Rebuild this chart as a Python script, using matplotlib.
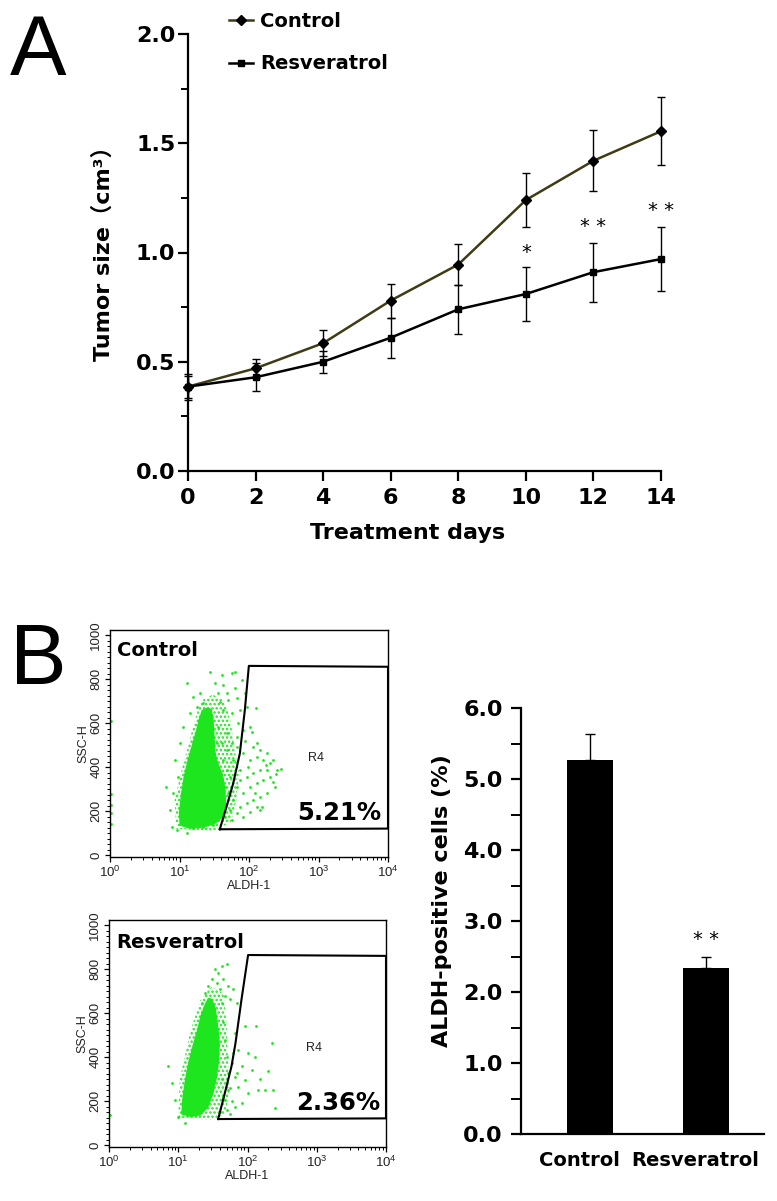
import numpy as np
import matplotlib
matplotlib.use("Agg")
import matplotlib.pyplot as plt
import matplotlib.transforms as mtransforms
from matplotlib.ticker import MultipleLocator, LogLocator, NullFormatter

plt.rcParams['font.family'] = ['DejaVu Sans', 'Noto Sans CJK SC']
plt.rcParams['hatch.linewidth'] = 1.2

W, H = 777, 1201

# === Panel A: tumor growth ===
days = [0, 2, 4, 6, 8, 10, 12, 14]
control_size = [0.386, 0.47, 0.585, 0.78, 0.945, 1.24, 1.42, 1.555]
control_err = [0.06, 0.043, 0.06, 0.078, 0.095, 0.124, 0.14, 0.156]
resv_size = [0.386, 0.429, 0.50, 0.61, 0.74, 0.81, 0.91, 0.97]
resv_err = [0.05, 0.063, 0.05, 0.092, 0.113, 0.122, 0.135, 0.146]
sig_days = [10, 12, 14]
sig_marks = ["*", "* *", "* *"]
sig_height = [1.0, 1.12, 1.19]

# === Panel B: ALDH-positive bars ===
groups = ["Control", "Resveratrol"]
aldh_pct = [5.27, 2.34]
aldh_err = [0.36, 0.155]
pct_labels = ["5.21%", "2.36%"]

# === Panel B: flow cytometry (ALDH-1, SSC-H) ===
# dense core of the population, outline
ctrl_core_x = [10, 9.8, 10.5, 11.5, 13, 15, 17, 19, 21, 25, 29, 31, 32, 33, 36, 42, 46, 47, 42, 32, 22, 14]
ctrl_core_y = [135, 200, 280, 360, 430, 500, 560, 620, 660, 672, 665, 620, 540, 470, 420, 370, 300, 230, 170, 140, 125, 120]
# looser ring of events round the core
ctrl_halo_x = [9, 8.5, 11, 15, 20, 30, 45, 55, 62, 72, 66, 55, 30]
ctrl_halo_y = [120, 250, 400, 560, 700, 730, 700, 600, 480, 380, 250, 150, 110]
ctrl_dots_x = [12.7, 19.7, 32.4, 40.5, 42.8, 47.8, 56.4, 63, 50.5, 66.5, 78.5, 87.7, 38.3, 22, 15.8,
               27.5, 36.2, 42.8, 56.4, 74.3, 92.7,
               66.5, 83, 103.5, 129, 161, 201, 251, 144, 115.6, 92.7, 74.3, 59.6, 53.3, 66.5, 83,
               103.5, 129, 161, 201, 237, 180, 144, 115.6, 92.7, 74.3, 59.6, 50.5, 53.3, 66.5, 83,
               103.5, 129, 74.3, 180, 224, 98, 122, 152, 45.2, 56.4, 40.5, 47.8, 56.4, 66.5, 83,
               103.5, 129, 144, 115.6, 180,
               8.1, 7.3, 8.6, 10.2, 11.4, 9.6, 7.7, 9.1, 12.7, 15.8, 22, 30, 6.5, 14.2, 17.8,
               36.2, 40.5, 42.8, 47.8, 38.3, 45.2, 40.5, 36.2, 47.8, 34.6,
               1.02, 1.02, 1.02, 1.02, 1.02,
               62.6, 128, 248, 178, 222, 143, 290, 110, 88, 70]
ctrl_dots_y = [781, 736, 781, 819, 773, 736, 826, 758, 705, 713, 796, 736, 698, 690, 720,
               834, 736, 660, 645, 660, 675,
               493, 463, 433, 448, 433, 418, 387, 387, 372, 357, 387, 433, 357, 312, 281,
               312, 327, 342, 357, 312, 281, 266, 251, 236, 221, 251, 281, 206, 191, 175,
               198, 221, 342, 387, 433, 402, 281, 221, 175, 160, 251, 387, 509, 539, 569,
               584, 509, 478, 493, 463,
               281, 206, 433, 509, 584, 357, 130, 115, 100, 122, 130, 138, 312, 645, 675,
               584, 509, 433, 554, 357, 312, 206, 281, 478, 509,
               140, 190, 230, 280, 610,
               833, 667, 371, 409, 333, 204, 390, 560, 520, 600]
ctrl_gate_x = [38, 47.5, 59.2, 73.8, 87.1, 99.5, 1e4, 1e4, 38]
ctrl_gate_y = [118, 220, 326, 462, 659, 860, 856, 121, 118]

resv_core_x = [11, 11.5, 12.5, 14, 16, 18.5, 21, 24, 27, 31, 35, 38, 40, 39, 36, 32, 27, 21, 15]
resv_core_y = [140, 220, 300, 380, 450, 520, 590, 640, 670, 665, 620, 540, 460, 380, 300, 230, 170, 135, 128]
resv_halo_x = [10, 10.5, 15, 21, 30, 45, 50, 52, 55, 48, 30]
resv_halo_y = [120, 300, 520, 660, 720, 690, 550, 400, 250, 140, 115]
resv_dots_x = [42.5, 50.2, 38, 34, 30.4, 44.9, 53, 27.2, 40.2, 62.5, 47.5, 35.9, 24.4, 21.8, 56,
               69.9, 42.5,
               66.1, 92.3, 73.9, 103, 129, 59.2, 82.6, 115, 66.1, 92.3, 73.9, 53, 103, 47.5, 82.6,
               66.1, 144, 180, 224, 152, 233, 248, 200, 134,
               8.0, 10, 12.5, 7.2, 9.0, 1.02,
               44.9, 47.5, 50.2, 53, 56, 59.2, 42.5, 45, 50, 40, 55, 62, 70]
resv_dots_y = [814, 822, 784, 799, 753, 753, 723, 723, 708, 708, 677, 738, 693, 647, 662,
               647, 647,
               510, 540, 434, 419, 403, 373, 358, 343, 312, 297, 266, 251, 236, 206, 190,
               175, 251, 251, 464, 300, 251, 167, 335, 540,
               282, 129, 99, 358, 205, 137,
               560, 480, 400, 330, 260, 200, 300, 220, 160, 150, 140, 420, 330]
resv_gate_x = [37.7, 47, 58.7, 67.1, 81.9, 102, 1e4, 1e4, 37.7]
resv_gate_y = [119, 236, 358, 464, 662, 864, 860, 122, 119]

GREEN = "#1ee61e"
OLIVE = "#3f3b15"


def fx(x):
    return x / W


def fy(y):
    return 1 - y / H


def box(left, top, right, bottom):
    return [fx(left), fy(bottom), (right - left) / W, (bottom - top) / H]


fig = plt.figure(figsize=(W / 100, H / 100), dpi=100)

# ---------- Panel A ----------
ax = fig.add_axes(box(188, 34, 661, 471))
ax.errorbar(days, control_size, yerr=control_err, fmt="none", ecolor="black",
            elinewidth=1, capsize=3, capthick=1, clip_on=False)
ax.errorbar(days, resv_size, yerr=resv_err, fmt="none", ecolor="black",
            elinewidth=1, capsize=3, capthick=1, clip_on=False)
ax.plot(days, control_size, color=OLIVE, lw=1.8, marker="D", ms=5.5,
        mfc="black", mec="black", label="Control", clip_on=False)
ax.plot(days, resv_size, color="black", lw=1.8, marker="s", ms=5,
        mfc="black", mec="black", label="Resveratrol", clip_on=False)
for d, m, h in zip(sig_days, sig_marks, sig_height):
    ax.text(d, h, m, ha="center", va="center", fontsize=14)

ax.set_xlim(0, 14)
ax.set_ylim(0, 2)
ax.set_xticks(days)
ax.yaxis.set_major_locator(MultipleLocator(0.5))
ax.yaxis.set_minor_locator(MultipleLocator(0.25))
ax.yaxis.set_major_formatter(plt.FuncFormatter(lambda v, p: f"{v:.1f}"))
for s in ["top", "right"]:
    ax.spines[s].set_visible(False)
for s in ["left", "bottom"]:
    ax.spines[s].set_linewidth(1.6)
ax.tick_params(axis="both", which="major", direction="out", length=7, width=1.6,
               labelsize=16)
ax.tick_params(axis="y", which="major", pad=2)
ax.tick_params(axis="x", which="major", pad=5)
ax.tick_params(axis="y", which="minor", direction="out", length=5, width=1.4)
for lab in ax.get_xticklabels() + ax.get_yticklabels():
    lab.set_fontweight("bold")

leg = ax.legend(loc="upper left", bbox_to_anchor=(fx(229), fy(12)),
                bbox_transform=fig.transFigure, frameon=False, borderpad=0,
                borderaxespad=0, fontsize=14, handlelength=1.25,
                handletextpad=0.35, labelspacing=1.2, markerscale=0.9)
for t in leg.get_texts():
    t.set_fontweight("bold")

fig.text(fx(103), fy(248), "Tumor size（cm³）", rotation=90, ha="center",
         va="center", fontsize=16, fontweight="bold")
fig.text(fx(408), fy(533), "Treatment days", ha="center", va="center",
         fontsize=16, fontweight="bold")
fig.text(fx(10), fy(75), "A", fontsize=61, family="Liberation Sans",
         va="baseline", ha="left")
fig.text(fx(10), fy(684), "B", fontsize=61, family="Liberation Sans",
         va="baseline", ha="left")


# ---------- Panel B: flow plots ----------
def flow_plot(rect, core_x, core_y, halo_x, halo_y, dots_x, dots_y, gate_x, gate_y):
    fa = fig.add_axes(rect)
    fa.fill(halo_x, halo_y, facecolor="none", edgecolor=GREEN, hatch="....", lw=0)
    fa.fill(core_x, core_y, color=GREEN, lw=0)
    fa.scatter(dots_x, dots_y, s=4, color=GREEN, lw=0)
    fa.plot(gate_x, gate_y, color="black", lw=1.5, clip_on=False)
    fa.set_xscale("log")
    fa.set_xlim(1, 1e4)
    fa.set_ylim(-8, 1023)
    fa.xaxis.set_major_locator(LogLocator(base=10, numticks=6))
    fa.xaxis.set_minor_locator(LogLocator(base=10, subs=np.arange(2, 10), numticks=40))
    fa.xaxis.set_minor_formatter(NullFormatter())
    fa.yaxis.set_major_locator(MultipleLocator(200))
    fa.yaxis.set_minor_locator(MultipleLocator(25))
    for sp in fa.spines.values():
        sp.set_linewidth(1.0)
    fa.tick_params(which="major", direction="out", length=3.5, width=0.9,
                   labelsize=9.5, labelcolor="#222222", pad=2)
    fa.tick_params(which="minor", direction="out", length=2, width=0.7)
    fa.tick_params(axis="y", labelrotation=90)
    for lab in fa.get_yticklabels():
        lab.set_va("center")
        lab.set_family("Liberation Sans")
    for lab in fa.get_xticklabels():
        lab.set_family("Liberation Sans")
    fa.set_xlabel("ALDH-1", fontsize=9, family="Liberation Sans", color="#222222",
                  labelpad=0)
    fa.set_ylabel("SSC-H", fontsize=9, family="Liberation Sans", color="#222222",
                  labelpad=1)
    return fa


flow_plot(box(110, 630, 388, 857), ctrl_core_x, ctrl_core_y, ctrl_halo_x, ctrl_halo_y,
          ctrl_dots_x, ctrl_dots_y, ctrl_gate_x, ctrl_gate_y)
flow_plot(box(109, 920, 386, 1147), resv_core_x, resv_core_y, resv_halo_x, resv_halo_y,
          resv_dots_x, resv_dots_y, resv_gate_x, resv_gate_y)

fig.text(fx(117), fy(651), groups[0], fontsize=14, fontweight="bold", va="center")
fig.text(fx(116), fy(942), groups[1], fontsize=14, fontweight="bold", va="center")
fig.text(fx(297), fy(813), pct_labels[0], fontsize=17.5, fontweight="bold", va="center")
fig.text(fx(296), fy(1103), pct_labels[1], fontsize=17.5, fontweight="bold", va="center")
fig.text(fx(316), fy(758), "R4", fontsize=9, family="Liberation Sans", ha="center",
         va="center", color="#222222")
fig.text(fx(314), fy(1048), "R4", fontsize=9, family="Liberation Sans", ha="center",
         va="center", color="#222222")

# ---------- Panel B: bar chart ----------
bx = fig.add_axes(box(520.7, 708, 764, 1134))
pos = np.arange(len(groups))
bx.bar(pos, aldh_pct, width=0.4, color="black")
bx.errorbar(pos, aldh_pct, yerr=[[0] * len(aldh_err), aldh_err], fmt="none",
            ecolor="black", elinewidth=1, capsize=3.5, capthick=1)
bx.text(pos[1], 2.74, "* *", ha="center", va="center", fontsize=14)
bx.set_xlim(-0.6, 1.5)
bx.set_ylim(0, 6)
bx.set_xticks(pos)
bx.set_xticklabels(groups)
bx.yaxis.set_major_locator(MultipleLocator(1.0))
bx.yaxis.set_minor_locator(MultipleLocator(0.5))
bx.yaxis.set_major_formatter(plt.FuncFormatter(lambda v, p: f"{v:.1f}"))
for s in ["top", "right"]:
    bx.spines[s].set_visible(False)
for s in ["left", "bottom"]:
    bx.spines[s].set_linewidth(1.6)
bx.tick_params(axis="y", which="major", direction="out", length=7, width=1.6,
               labelsize=16, pad=6)
bx.tick_params(axis="y", which="minor", direction="out", length=7, width=1.4)
bx.tick_params(axis="x", length=0, labelsize=14, pad=12)
shift = mtransforms.ScaledTranslation(-11 / 100, 0, fig.dpi_scale_trans)
for lab in bx.get_xticklabels():
    lab.set_transform(lab.get_transform() + shift)
for lab in bx.get_xticklabels() + bx.get_yticklabels():
    lab.set_fontweight("bold")
fig.text(fx(442), fy(901), "ALDH-positive cells (%)", rotation=90, ha="center",
         va="center", fontsize=16, fontweight="bold")

fig.savefig("out.png", dpi=100)
